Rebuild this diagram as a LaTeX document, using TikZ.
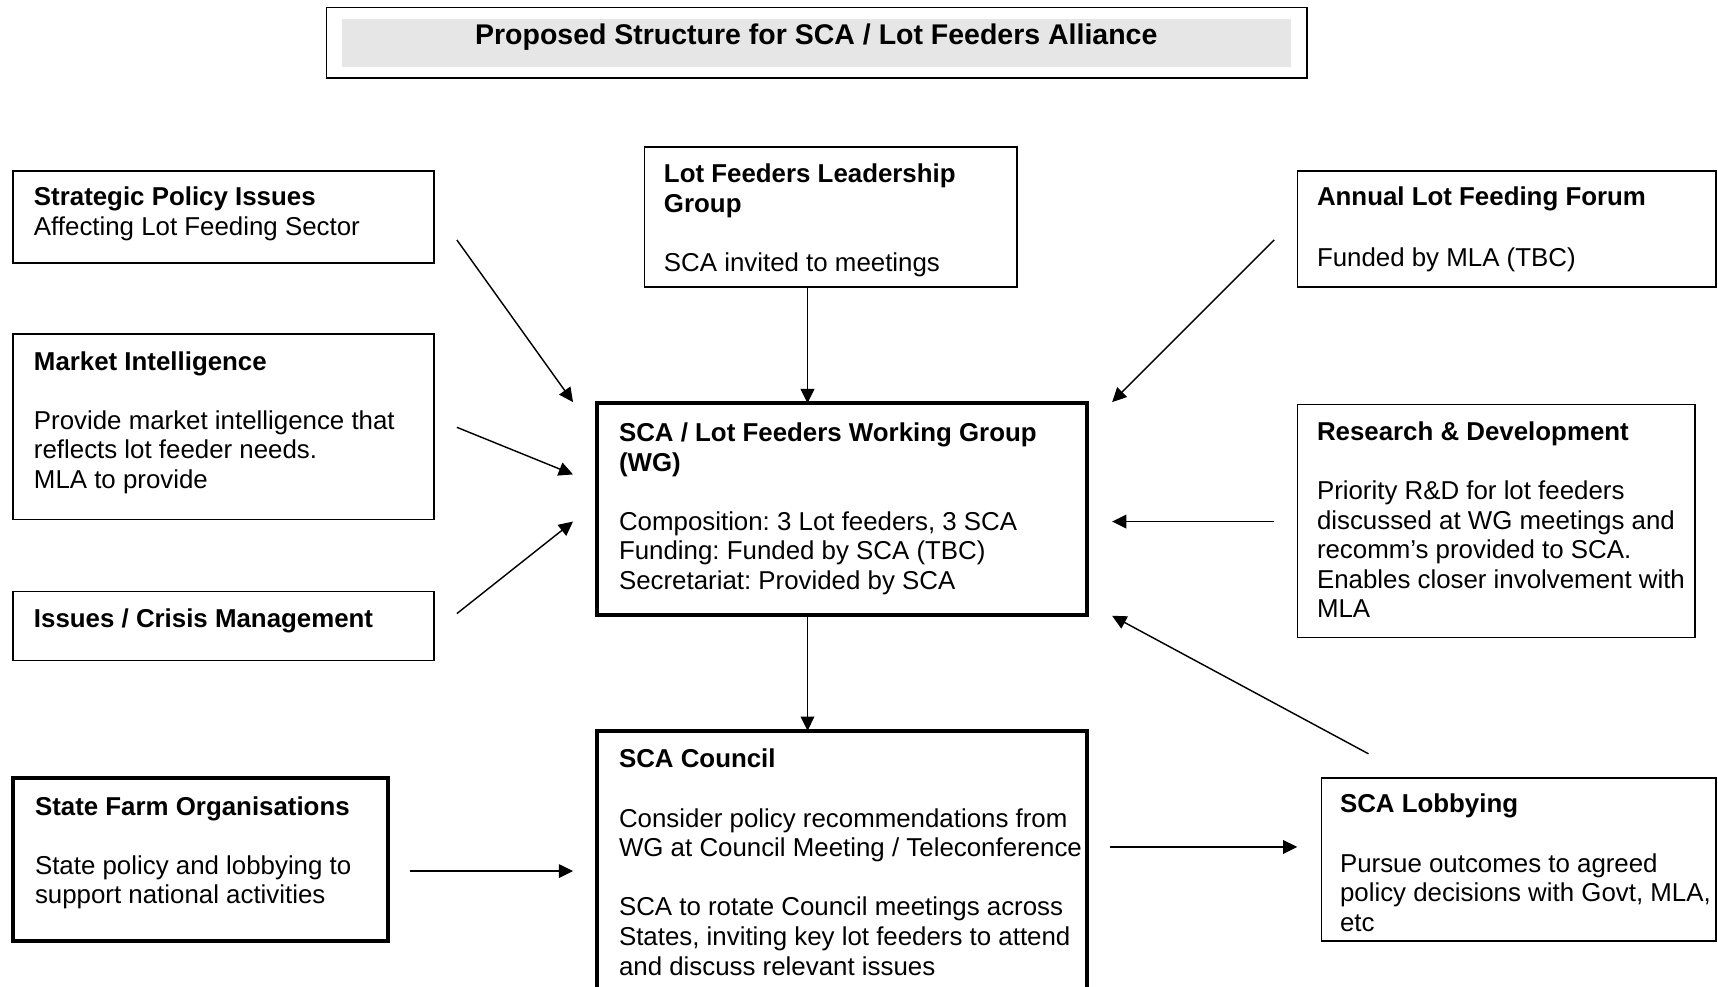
\documentclass[tikz,border=0pt]{standalone}
\usepackage{fontspec}
\setmainfont{Liberation Sans}
\usetikzlibrary{arrows.meta}
\definecolor{titlegray}{HTML}{E6E6E6}
\frenchspacing
\tikzset{
  box/.style={draw=black, line width=1.3pt, inner sep=0pt, outer sep=0pt, anchor=north west},
  thickbox/.style={box, line width=3.6pt},
  txt/.style={anchor=north west, inner sep=0pt, outer sep=0pt, align=left,
    font=\fontsize{23.6}{27}\selectfont},
  arr/.style={line width=1.3pt, -{Triangle[length=13pt,width=12.5pt]}},
}
\begin{document}
\begin{tikzpicture}[x=1pt,y=1pt]
\useasboundingbox (0,0) rectangle (1568,-900);
% title
\node[box, line width=1.5pt, minimum width=895pt, minimum height=64pt] (title) at (298,-7) {};
\node[anchor=north west, fill=titlegray, inner sep=0pt, minimum width=866pt, minimum height=44pt] (titlebg) at (312,-17) {};
\node[anchor=base, inner sep=0pt, font=\fontsize{26}{30}\selectfont\bfseries] (titletext) at (745,-40.5) {Proposed Structure for SCA / Lot Feeders Alliance};

% left boxes
\node[box, minimum width=384pt, minimum height=84pt] (sp) at (12,-156) {};
\node[txt] (spT) at (31,-169) {\strut\textbf{Strategic Policy Issues}\\Affecting Lot Feeding Sector};

\node[box, minimum width=384pt, minimum height=169pt] (mi) at (12,-305) {};
\node[txt] (miT) at (31,-319) {\strut\textbf{Market Intelligence}\\[27pt]Provide market intelligence that\\reflects lot feeder needs.\\MLA to provide};

\node[box, minimum width=384pt, minimum height=63pt] (ic) at (12,-540) {};
\node[txt] (icT) at (31,-554) {\strut\textbf{Issues / Crisis Management}};

\node[thickbox, minimum width=342pt, minimum height=149pt] (sf) at (12,-710) {};
\node[txt] (sfT) at (32,-725) {\strut\textbf{State Farm Organisations}\\[27pt]State policy and lobbying to\\support national activities};

% centre boxes
\node[box, minimum width=340pt, minimum height=128pt] (lfl) at (588,-134) {};
\node[txt] (lflT) at (606,-148) {\strut\textbf{Lot Feeders Leadership}\\\textbf{Group}\\[27pt]SCA invited to meetings};

\node[thickbox, minimum width=447pt, minimum height=193pt] (wg) at (545,-368) {};
\node[txt] (wgT) at (565,-384) {\strut\textbf{SCA / Lot Feeders Working Group}\\\textbf{(WG)}\\[27pt]Composition: 3 Lot feeders, 3 SCA\\Funding: Funded by SCA (TBC)\\Secretariat: Provided by SCA};

\node[thickbox, minimum width=447pt, minimum height=260pt] (sc) at (545,-667) {};
\node[txt] (scT) at (565,-682) {\strut\textbf{SCA Council}\\[27pt]Consider policy recommendations from\\WG at Council Meeting / Teleconference\\[27pt]SCA to rotate Council meetings across\\States, inviting key lot feeders to attend\\and discuss relevant issues};

% right boxes
\node[box, minimum width=382pt, minimum height=106pt] (alf) at (1184,-156) {};
\node[txt] (alfT) at (1202,-169) {\strut\textbf{Annual Lot Feeding Forum}\\[28pt]Funded by MLA (TBC)};

\node[box, minimum width=363pt, minimum height=213pt] (rd) at (1184,-369) {};
\node[txt] (rdT) at (1202,-383) {\strut\textbf{Research \& Development}\\[27pt]Priority R\&D for lot feeders\\discussed at WG meetings and\\recomm’s provided to SCA.\\Enables closer involvement with\\MLA};

\node[box, minimum width=360pt, minimum height=149pt] (lob) at (1206,-710) {};
\node[txt] (lobT) at (1223,-723) {\strut\textbf{SCA Lobbying}\\[27pt]Pursue outcomes to agreed\\policy decisions with Govt, MLA,\\etc};

% arrow end points
\coordinate (spA) at (417,-219);   \coordinate (spB) at (523,-367);
\coordinate (miA) at (417,-390);   \coordinate (miB) at (523,-433);
\coordinate (icA) at (417,-560);   \coordinate (icB) at (523,-476);
\coordinate (lflA) at (737,-262);  \coordinate (lflB) at (737,-368);
\coordinate (alfA) at (1163,-219); \coordinate (alfB) at (1015,-367);
\coordinate (rdA) at (1163,-476);  \coordinate (rdB) at (1015,-476);
\coordinate (lobA) at (1249,-688); \coordinate (lobB) at (1015,-562);
\coordinate (wgA) at (737,-561);   \coordinate (wgB) at (737,-667);
\coordinate (sfA) at (374,-795);   \coordinate (sfB) at (523,-795);
\coordinate (scA) at (1013,-773);  \coordinate (scB) at (1184,-773);

\draw[arr] (spA) -- (spB);
\draw[arr] (miA) -- (miB);
\draw[arr] (icA) -- (icB);
\draw[arr] (lflA) -- (lflB);
\draw[arr] (alfA) -- (alfB);
\draw[arr] (rdA) -- (rdB);
\draw[arr] (lobA) -- (lobB);
\draw[arr] (wgA) -- (wgB);
\draw[arr] (sfA) -- (sfB);
\draw[arr] (scA) -- (scB);
\end{tikzpicture}
\end{document}
